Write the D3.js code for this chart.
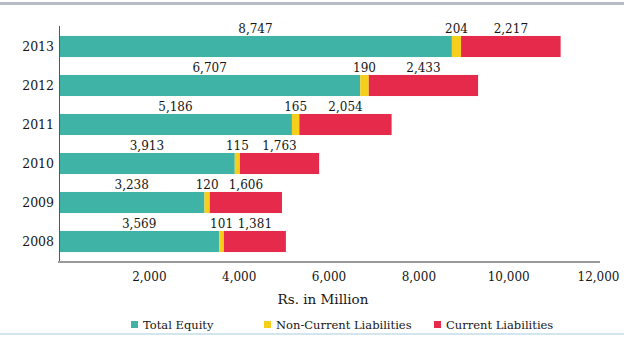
<!DOCTYPE html>
<html>
<head>
<meta charset="utf-8">
<script src="https://cdn.jsdelivr.net/npm/d3@7/dist/d3.min.js"></script>
<style>
  html, body { margin: 0; padding: 0; background: #ffffff; }
  svg { display: block; }
  text { font-family: "DejaVu Serif", "Liberation Serif", serif; fill: #161616; }
</style>
</head>
<body>
<div id="chart"></div>
<script>
// Funding structure by year (Rs. in Million)
const years = ["2013", "2012", "2011", "2010", "2009", "2008"];
const totalEquity = [8747, 6707, 5186, 3913, 3238, 3569];
const nonCurrentLiabilities = [204, 190, 165, 115, 120, 101];
const currentLiabilities = [2217, 2433, 2054, 1763, 1606, 1381];
const seriesNames = ["Total Equity", "Non-Current Liabilities", "Current Liabilities"];
const seriesColors = ["#3fb4a6", "#f6cf1c", "#e62a4c"];
const xTicks = [2000, 4000, 6000, 8000, 10000, 12000];
const xTitle = "Rs. in Million";

const W = 624, H = 337;
const svg = d3.select("#chart").append("svg").attr("width", W).attr("height", H);

// decorative rules at top and bottom of the panel
svg.append("rect").attr("x", 0).attr("y", 2).attr("width", W).attr("height", 3).attr("fill", "#b7bcc6");
svg.append("rect").attr("x", 0).attr("y", 333).attr("width", W).attr("height", 2).attr("fill", "#d3e6f0");

const x = d3.scaleLinear().domain([0, 12000]).range([59, 598]);
const y = d3.scaleBand().domain(years).range([27, 261]).paddingInner(0.46).paddingOuter(0.23);

// rows stacked: equity, then non-current, then current liabilities
const stackInput = years.map((yr, i) => ({
  year: yr, s0: totalEquity[i], s1: nonCurrentLiabilities[i], s2: currentLiabilities[i]
}));
const stacked = d3.stack().keys(["s0", "s1", "s2"])(stackInput);

const fmt = d3.format(",");

stacked.forEach((layer, k) => {
  const g = svg.append("g");
  g.selectAll("rect").data(layer).join("rect")
    .attr("x", d => x(d[0]))
    .attr("y", d => y(d.data.year))
    .attr("width", d => x(d[1]) - x(d[0]))
    .attr("height", y.bandwidth())
    .attr("fill", seriesColors[k]);
  g.selectAll("text").data(layer).join("text")
    .attr("x", d => (x(d[0]) + x(d[1])) / 2)
    .attr("y", d => y(d.data.year) - 3)
    .attr("text-anchor", "middle")
    .attr("font-size", 12)
    .text(d => fmt(d[1] - d[0]));
});

// y axis: year labels and vertical rule
svg.append("line").attr("x1", 59.5).attr("x2", 59.5).attr("y1", 26).attr("y2", 262)
  .attr("stroke", "#555").attr("stroke-width", 1);
svg.append("g").selectAll("text").data(years).join("text")
  .attr("x", 54)
  .attr("y", d => y(d) + y.bandwidth() / 2 + 4)
  .attr("text-anchor", "end")
  .attr("font-size", 12.5)
  .text(d => d);

// x axis
const xAxis = d3.axisBottom(x).tickValues(xTicks).tickFormat(fmt).tickSize(0).tickPadding(10);
const gx = svg.append("g").attr("transform", "translate(0,262)").call(xAxis);
gx.select(".domain").remove();
gx.selectAll("text").attr("font-size", 12).attr("font-family", "DejaVu Serif, serif").attr("fill", "#161616");
svg.append("line").attr("x1", 58).attr("x2", 600).attr("y1", 262).attr("y2", 262)
  .attr("stroke", "#9a9a9a").attr("stroke-width", 2);

svg.append("text").attr("x", 323).attr("y", 304).attr("text-anchor", "middle")
  .attr("font-size", 13.5).text(xTitle);

// legend
const legendX = [131, 264, 434];
const lg = svg.append("g").selectAll("g").data(seriesNames).join("g")
  .attr("transform", (d, i) => `translate(${legendX[i]},325)`);
lg.append("rect").attr("x", 0).attr("y", -4).attr("width", 7).attr("height", 7)
  .attr("fill", (d, i) => seriesColors[i]);
lg.append("text").attr("x", 12).attr("y", 3.5).attr("font-size", 11.5).text(d => d);
</script>
</body>
</html>
